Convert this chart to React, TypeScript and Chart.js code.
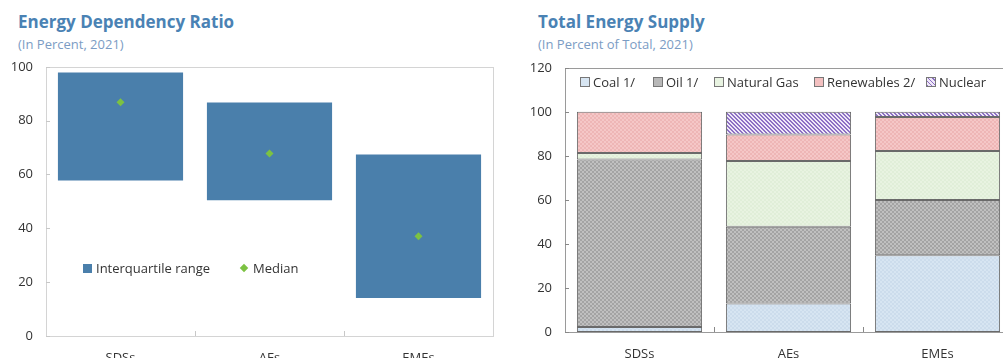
import React, { useEffect, useRef } from "react";
import { Chart, registerables } from "chart.js";
Chart.register(...registerables);

const categories = ["SDSs", "AEs", "EMEs"];
const iqrLow = [57.8, 50.4, 14.1];
const iqrHigh = [97.9, 86.7, 67.4];
const medians = [86.8, 67.8, 37.1];

const coal = [2.3, 13.0, 34.9];
const oil = [76.0, 34.8, 25.0];
const gas = [3.0, 29.9, 22.3];
const renewables = [18.7, 12.0, 15.4];
const nuclear = [0, 10.3, 2.4];

const FONT = "'Open Sans', 'Noto Sans', sans-serif";
const TITLE_COLOR = "#4a82b4";
const SUB_COLOR = "#7b9cc4";

function makePattern(size: number, draw: (ctx: CanvasRenderingContext2D) => void) {
  const c = document.createElement("canvas");
  c.width = size;
  c.height = size;
  const ctx = c.getContext("2d")!;
  draw(ctx);
  return ctx.createPattern(c, "repeat")!;
}

function checker(base: string, dark: string) {
  return makePattern(4, (ctx) => {
    ctx.fillStyle = base;
    ctx.fillRect(0, 0, 4, 4);
    ctx.fillStyle = dark;
    ctx.fillRect(0, 0, 2, 2);
    ctx.fillRect(2, 2, 2, 2);
  });
}

function stripes(base: string, line: string) {
  return makePattern(4, (ctx) => {
    ctx.fillStyle = base;
    ctx.fillRect(0, 0, 4, 4);
    ctx.fillStyle = line;
    for (let i = 0; i < 4; i++) {
      ctx.fillRect(i, i, 1, 1);
      ctx.fillRect((i + 1) % 4, i, 1, 1);
    }
  });
}

const frame = (rectColor: string, tickColor: string) => ({
  id: "frame",
  afterDraw(chart: any) {
    const { ctx, chartArea: a, scales } = chart;
    ctx.save();
    ctx.strokeStyle = rectColor;
    ctx.lineWidth = 1;
    ctx.strokeRect(Math.round(a.left) + 0.5, Math.round(a.top) + 0.5, Math.round(a.right - a.left), Math.round(a.bottom - a.top));
    ctx.strokeStyle = tickColor;
    ctx.beginPath();
    scales.y.ticks.forEach((t: any) => {
      const y = Math.round(scales.y.getPixelForValue(t.value)) + 0.5;
      ctx.moveTo(a.left, y);
      ctx.lineTo(a.left + 4, y);
    });
    const n = scales.x.ticks.length;
    for (let i = 1; i < n; i++) {
      const x = Math.round((scales.x.getPixelForValue(i - 1) + scales.x.getPixelForValue(i)) / 2) + 0.5;
      ctx.moveTo(x, a.bottom);
      ctx.lineTo(x, a.bottom - 5);
    }
    ctx.stroke();
    ctx.restore();
  },
});

function DependencyChart() {
  const ref = useRef<HTMLCanvasElement>(null);
  useEffect(() => {
    const chart = new Chart(ref.current!, {
      type: "bar",
      data: {
        labels: categories,
        datasets: [
          {
            type: "line",
            label: "Median",
            data: medians,
            showLine: false,
            pointStyle: "rectRot",
            pointRadius: 4,
            pointBackgroundColor: "#7cc242",
            pointBorderWidth: 0,
            order: 0,
          } as any,
          {
            type: "bar",
            label: "Interquartile range",
            data: categories.map((_, i) => [iqrLow[i], iqrHigh[i]]),
            backgroundColor: "#4a7fab",
            borderColor: "#4a7fab",
            borderWidth: 0,
            barPercentage: 0.84,
            categoryPercentage: 1,
            order: 1,
          } as any,
        ],
      },
      options: {
        responsive: false,
        animation: false,
        layout: { padding: { top: 0, left: 0, right: 16, bottom: 0 } },
        plugins: { legend: { display: false }, tooltip: { enabled: false } },
        scales: {
          x: {
            grid: { display: false, drawTicks: false },
            border: { display: false },
            ticks: { padding: 14, color: "#333", font: { size: 13, family: FONT } },
            afterFit: (s: any) => { s.height = 30; },
          },
          y: {
            min: 0,
            max: 100,
            grid: { display: false, drawTicks: false },
            border: { display: false },
            ticks: { stepSize: 20, padding: 13, color: "#333", font: { size: 13, family: FONT } },
            afterFit: (s: any) => { s.width = 46; },
          },
        },
      },
      plugins: [frame("#d4d4d4", "#c8c8c8")],
    });
    return () => chart.destroy();
  }, []);
  return <canvas ref={ref} width={509} height={320} style={{ position: "absolute", left: 0, top: 46 }} />;
}

function SupplyChart() {
  const ref = useRef<HTMLCanvasElement>(null);
  useEffect(() => {
    const pCoal = checker("#d7e5f2", "#ccdcec");
    const pOil = checker("#c0c0c0", "#a4a4a4");
    const pGas = checker("#e8f3e1", "#e0eed8");
    const pRen = checker("#f5c7c7", "#eeb6b6");
    const pNuc = stripes("#efe8f8", "#8d70c4");
    const mk = (label: string, data: number[], bg: any) => ({
      label,
      data,
      backgroundColor: bg,
      borderColor: "#6a6a6a",
      borderWidth: 1,
      borderSkipped: false,
      barPercentage: 0.84,
      categoryPercentage: 1,
    });
    const chart = new Chart(ref.current!, {
      type: "bar",
      data: {
        labels: categories,
        datasets: [
          mk("Coal 1/", coal, pCoal),
          mk("Oil 1/", oil, pOil),
          mk("Natural Gas", gas, pGas),
          mk("Renewables 2/", renewables, pRen),
          mk("Nuclear", nuclear, pNuc),
        ] as any,
      },
      options: {
        responsive: false,
        animation: false,
        layout: { padding: { top: 0, left: 0, right: 8, bottom: 0 } },
        plugins: { legend: { display: false }, tooltip: { enabled: false } },
        scales: {
          x: {
            stacked: true,
            grid: { display: false, drawTicks: false },
            border: { display: false },
            ticks: { padding: 14, color: "#333", font: { size: 13, family: FONT } },
            afterFit: (s: any) => { s.height = 30; },
          },
          y: {
            stacked: true,
            min: 0,
            max: 120,
            grid: { display: false, drawTicks: false },
            border: { display: false },
            ticks: { stepSize: 20, padding: 13, color: "#333", font: { size: 13, family: FONT } },
            afterFit: (s: any) => { s.width = 45; },
          },
        },
      },
      plugins: [frame("#9a9a9a", "#888")],
    });
    return () => chart.destroy();
  }, []);
  return <canvas ref={ref} width={500} height={315} style={{ position: "absolute", left: 520, top: 47 }} />;
}

const titleStyle: React.CSSProperties = {
  position: "absolute",
  fontFamily: FONT,
  fontWeight: 700,
  fontSize: 17,
  lineHeight: "20px",
  color: TITLE_COLOR,
  whiteSpace: "nowrap",
};
const subStyle: React.CSSProperties = {
  position: "absolute",
  fontFamily: FONT,
  fontSize: 13,
  lineHeight: "16px",
  color: SUB_COLOR,
  whiteSpace: "nowrap",
};
const legText: React.CSSProperties = {
  fontFamily: FONT,
  fontSize: 13,
  color: "#333",
  whiteSpace: "nowrap",
};

const supplyLegend = [
  { label: "Coal 1/", bg: "#d7e5f2" },
  { label: "Oil 1/", bg: "#b8b8b8" },
  { label: "Natural Gas", bg: "#e8f3e1" },
  { label: "Renewables 2/", bg: "#f3c0c0" },
  { label: "Nuclear", bg: "repeating-linear-gradient(45deg, #8d70c4 0px, #8d70c4 1px, #efe8f8 1px, #efe8f8 3px)" },
];
const supplyLegendX = [580, 653, 714, 814, 926];

export default function App() {
  return (
    <div style={{ position: "fixed", left: 0, top: 0, width: 1003, height: 358, overflow: "hidden", background: "#fff" }}>
      <div style={{ ...titleStyle, left: 18, top: 12 }}>Energy Dependency Ratio</div>
      <div style={{ ...subStyle, left: 18, top: 36 }}>(In Percent, 2021)</div>
      <div style={{ ...titleStyle, left: 538, top: 12 }}>Total Energy Supply</div>
      <div style={{ ...subStyle, left: 538, top: 36 }}>(In Percent of Total, 2021)</div>
      <DependencyChart />
      <SupplyChart />
      <div style={{ position: "absolute", left: 83, top: 259, height: 18, display: "flex", alignItems: "center" }}>
        <div style={{ width: 9, height: 9, background: "#4a7fab", marginRight: 4 }} />
        <span style={legText}>Interquartile range</span>
        <div style={{ width: 6, height: 6, background: "#7cc242", transform: "rotate(45deg)", marginLeft: 31, marginRight: 6 }} />
        <span style={legText}>Median</span>
      </div>
      {supplyLegend.map((it, i) => (
        <div key={it.label} style={{ position: "absolute", left: supplyLegendX[i], top: 73, height: 18, display: "flex", alignItems: "center" }}>
          <div style={{ width: 8, height: 8, background: it.bg, border: "1px solid #777", marginRight: 3 }} />
          <span style={legText}>{it.label}</span>
        </div>
      ))}
    </div>
  );
}
